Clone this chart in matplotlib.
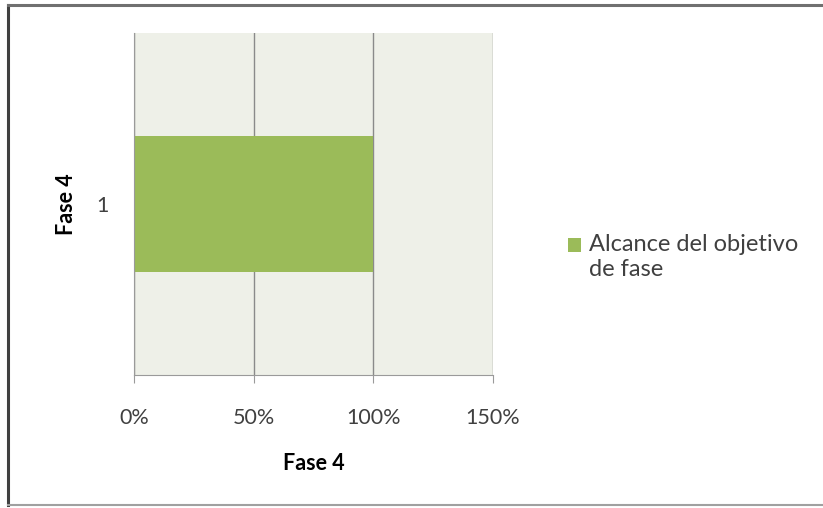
import matplotlib.pyplot as plt
from matplotlib.lines import Line2D
from matplotlib.ticker import PercentFormatter

categories = ["1"]
values = [1.0]
series_name = "Alcance del objetivo\nde fase"
x_ticks = [0, 0.5, 1.0, 1.5]
axis_title = "Fase 4"

plt.rcParams['font.family'] = ['Lato', 'DejaVu Sans']

fig = plt.figure(figsize=(8.23, 5.08), dpi=100)
fig.patch.set_facecolor("white")

# outer chart frame (left, top, bottom edges visible in the reference)
W, H = 823, 508
fig.add_artist(Line2D([8 / W, 8 / W], [1 - 5 / H, 1 - 505 / H], color="#404040", lw=2.2, transform=fig.transFigure))
fig.add_artist(Line2D([8 / W, 1], [1 - 5 / H, 1 - 5 / H], color="#707070", lw=2.2, transform=fig.transFigure))
fig.add_artist(Line2D([8 / W, 1], [1 - 505 / H, 1 - 505 / H], color="#a0a0a0", lw=1.5, transform=fig.transFigure))

ax = fig.add_axes([134 / W, 1 - 375 / H, (493 - 134) / W, (375 - 33) / H])
ax.set_facecolor("#eef0e8")

ypos = list(range(len(categories)))
ax.barh(ypos, values, height=0.4, color="#9bbb59", label=series_name, zorder=3)

ax.set_xlim(x_ticks[0], x_ticks[-1])
ax.set_ylim(-0.5, len(categories) - 0.5)
ax.set_xticks(x_ticks)
ax.xaxis.set_major_formatter(PercentFormatter(1.0, decimals=0))
ax.set_yticks(ypos)
ax.set_yticklabels(categories)

ax.grid(axis="x", color="#8a8a8a", lw=1.0, zorder=1)
for side in ["top", "right"]:
    ax.spines[side].set_visible(False)
ax.spines["left"].set_color("#9a9a9a")
ax.spines["bottom"].set_color("#9a9a9a")
ax.spines["left"].set_zorder(4)

ax.tick_params(axis="x", length=6, color="#9a9a9a", labelsize=15.5, labelcolor="#404040", pad=18)
ax.tick_params(axis="y", length=0, labelsize=15.5, labelcolor="#404040", pad=18)

ax.set_xlabel(axis_title, fontsize=15.5, fontweight="bold", labelpad=18)
ax.set_ylabel(axis_title, fontsize=15.5, fontweight="bold", labelpad=14)

leg = fig.legend(loc="upper left", bbox_to_anchor=(559 / W, 1 - 225 / H), frameon=False,
                 fontsize=17, handlelength=0.55, handleheight=0.55, handletextpad=0.3,
                 labelcolor="#404040", borderaxespad=0, labelspacing=0.1)
# Excel puts the swatch next to the first line of a wrapped label
swatch = leg.legend_handles[0]
swatch.set_y(swatch.get_y() + 9)

fig.savefig("out.png", dpi=100)
